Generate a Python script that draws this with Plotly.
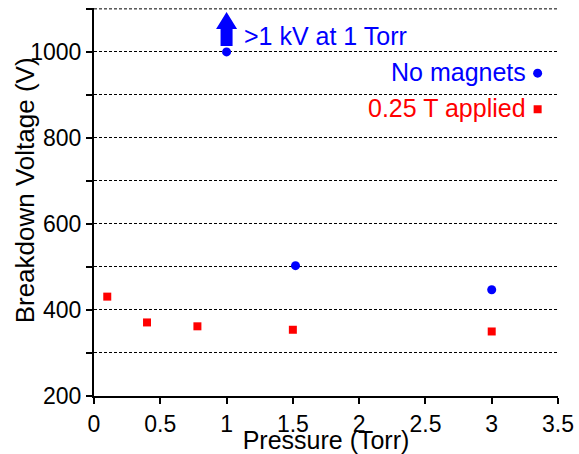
import plotly.graph_objects as go

# Data
nomag_pressure = [1.0, 1.52, 3.0]
nomag_voltage = [1000, 503, 447]
mag_pressure = [0.1, 0.4, 0.78, 1.5, 3.0]
mag_voltage = [431, 371, 362, 354, 350]

series_names = ["No magnets", "0.25 T applied"]
x_tickvals = [0, 0.5, 1, 1.5, 2, 2.5, 3, 3.5]
x_ticktext = ["0", "0.5", "1", "1.5", "2", "2.5", "3", "3.5"]
y_tickvals = [200, 400, 600, 800, 1000]
y_top = 1100

BLUE = "#0000FF"
RED = "#FF0000"
FONT = "Arial, Liberation Sans, sans-serif"

fig = go.Figure()
fig.add_trace(go.Scatter(
    x=nomag_pressure, y=nomag_voltage, mode="markers", name=" ",
    marker=dict(symbol="circle", size=9, color=BLUE), legend="legend",
))
fig.add_trace(go.Scatter(
    x=mag_pressure, y=mag_voltage, mode="markers", name=" ",
    marker=dict(symbol="square", size=8, color=RED), legend="legend2",
))

dash = "3px,2px"
fig.update_xaxes(
    range=[0, 3.5], tickvals=x_tickvals, ticktext=x_ticktext,
    showgrid=False, zeroline=False, automargin=False,
    showline=True, linecolor="black", linewidth=2,
    ticks="outside", ticklen=6, tickwidth=2, tickcolor="black",
    tickfont=dict(size=23, color="black", family=FONT),
    title=dict(text="Pressure (Torr)", font=dict(size=25, color="black", family=FONT)),
)
fig.update_yaxes(
    range=[200, 1102], tickvals=y_tickvals,
    showgrid=True, gridcolor="black", gridwidth=1, griddash=dash,
    zeroline=False, automargin=False,
    showline=True, linecolor="black", linewidth=2,
    ticks="outside", ticklen=6, tickwidth=2, tickcolor="black",
    tickfont=dict(size=23, color="black", family=FONT),
    minor=dict(dtick=100, tick0=200, ticks="outside", ticklen=6, tickwidth=2, tickcolor="black",
               showgrid=True, gridcolor="black", gridwidth=1, griddash=dash),
)

# top dashed gridline at the upper end of the axis
fig.add_shape(
    type="line", xref="paper", yref="y", x0=0, x1=1, y0=y_top, y1=y_top,
    line=dict(color="black", width=1, dash=dash), layer="below",
)

# y-axis title (placed as rotated text to match the reference position)
fig.add_annotation(
    x=-0.1487, y=0.530, xref="paper", yref="paper", text="Breakdown Voltage (V)",
    textangle=-90, showarrow=False, xanchor="center", yanchor="middle",
    font=dict(size=26, color="black", family=FONT),
)

# thick up-arrow above the 1 Torr point (pixel-sized shape anchored at that point)
fig.add_shape(
    type="path", xref="x", yref="y", xsizemode="pixel", ysizemode="pixel",
    xanchor=nomag_pressure[0], yanchor=nomag_voltage[0],
    path="M -6 6 L 6 6 L 6 23 L 10.5 23 L 0 40 L -10.5 23 L -6 23 Z",
    fillcolor=BLUE, line=dict(width=0),
)
fig.add_annotation(
    x=1.115, y=1037, xref="x", yref="y", text=">1 kV at 1 Torr", showarrow=False,
    xanchor="left", yanchor="middle", font=dict(size=25, color=BLUE, family=FONT),
)
fig.add_annotation(
    x=0.935, y=0.834, xref="paper", yref="paper", text=series_names[0], showarrow=False,
    xanchor="right", yanchor="middle", font=dict(size=25, color=BLUE, family=FONT),
)
fig.add_annotation(
    x=0.935, y=0.742, xref="paper", yref="paper", text=series_names[1], showarrow=False,
    xanchor="right", yanchor="middle", font=dict(size=25, color=RED, family=FONT),
)

fig.update_layout(
    width=579, height=454,
    margin=dict(l=94, r=21, t=8, b=58),
    paper_bgcolor="white", plot_bgcolor="white",
    font=dict(family=FONT, color="black"),
    showlegend=True,
    legend=dict(x=0.913, y=0.832, xanchor="left", yanchor="middle", bgcolor="rgba(0,0,0,0)",
                font=dict(size=12), borderwidth=0),
    legend2=dict(x=0.913, y=0.739, xanchor="left", yanchor="middle", bgcolor="rgba(0,0,0,0)",
                 font=dict(size=12), borderwidth=0),
)

fig.write_html(
    "out.html",
    config={"displayModeBar": False},
    post_script="document.body.style.margin='0px';document.body.style.overflow='hidden';",
)
